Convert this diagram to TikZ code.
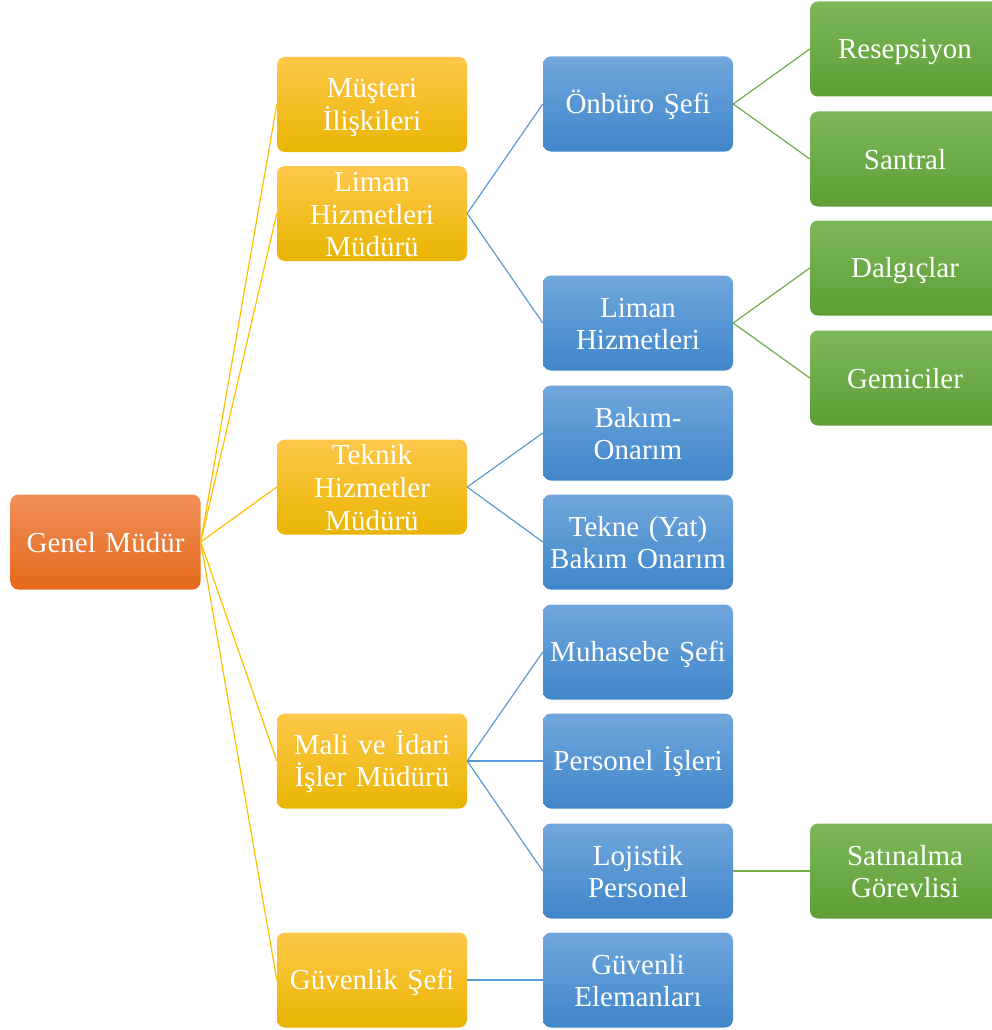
\documentclass[tikz,border=0pt]{standalone}
\usepackage{fontspec}
\setmainfont{Liberation Serif}
\begin{document}
\begin{tikzpicture}[x=1pt,y=-1pt,
  box/.style={rectangle, rounded corners=8pt, minimum width=190pt, minimum height=95pt,
    inner sep=0pt, text=white, align=center, text width=186pt,
    font=\fontsize{29}{32.8}\selectfont,
    execute at begin node={\rule{0pt}{25pt}},
    execute at end node={\rule[-4pt]{0pt}{4pt}}},
  obox/.style={box, top color=orange1, middle color=orange2, bottom color=orange3},
  ybox/.style={box, top color=yel1, middle color=yel2, bottom color=yel3},
  bbox/.style={box, top color=blu1, middle color=blu2, bottom color=blu3},
  gbox/.style={box, top color=grn1, middle color=grn2, bottom color=grn3},
  yline/.style={draw=yelline, line width=1.2pt},
  bline/.style={draw=bluline, line width=1.2pt},
  gline/.style={draw=grnline, line width=1.2pt}]
\definecolor{orange1}{HTML}{F18F5A}
\definecolor{orange2}{HTML}{F07E30}
\definecolor{orange3}{HTML}{E4691A}
\definecolor{yel1}{HTML}{FFC84A}
\definecolor{yel2}{HTML}{FFC107}
\definecolor{yel3}{HTML}{E9B502}
\definecolor{blu1}{HTML}{71A7DD}
\definecolor{blu2}{HTML}{5599DC}
\definecolor{blu3}{HTML}{3F86CA}
\definecolor{grn1}{HTML}{7DB85B}
\definecolor{grn2}{HTML}{6AAE3E}
\definecolor{grn3}{HTML}{5E9E34}
\definecolor{yelline}{HTML}{FFC000}
\definecolor{bluline}{HTML}{5B9BD5}
\definecolor{grnline}{HTML}{70AD47}
\useasboundingbox (0,0) rectangle (992,1030);

\node[obox] (gm) at (105.5,542) {Genel Müdür};

\node[ybox] (y1) at (372,104.5) {Müşteri\\İlişkileri};
\node[ybox] (y2) at (372,213.5) {Liman\\Hizmetleri\\Müdürü};
\node[ybox] (y3) at (372,487) {Teknik\\Hizmetler\\Müdürü};
\node[ybox] (y4) at (372,761) {Mali ve İdari\\İşler Müdürü};
\node[ybox] (y5) at (372,980) {Güvenlik Şefi};

\node[bbox] (b1) at (638,104) {Önbüro Şefi};
\node[bbox] (b2) at (638,323) {Liman\\Hizmetleri};
\node[bbox] (b3) at (638,433) {Bakım-\\Onarım};
\node[bbox] (b4) at (638,542) {Tekne (Yat)\\Bakım Onarım};
\node[bbox] (b5) at (638,652) {Muhasebe Şefi};
\node[bbox] (b6) at (638,761) {Personel İşleri};
\node[bbox] (b7) at (638,871) {Lojistik\\Personel};
\node[bbox] (b8) at (638,980) {Güvenli\\Elemanları};

\node[gbox] (g1) at (905,49) {Resepsiyon};
\node[gbox] (g2) at (905,159) {Santral};
\node[gbox] (g3) at (905,268) {Dalgıçlar};
\node[gbox] (g4) at (905,378) {Gemiciler};
\node[gbox] (g5) at (905,871) {Satınalma\\Görevlisi};

\foreach \t in {y1,y2,y3,y4,y5} \draw[yline] (gm.east) -- (\t.west);
\draw[bline] (y2.east) -- (b1.west);
\draw[bline] (y2.east) -- (b2.west);
\draw[bline] (y3.east) -- (b3.west);
\draw[bline] (y3.east) -- (b4.west);
\draw[bline] (y4.east) -- (b5.west);
\draw[bline] (y4.east) -- (b6.west);
\draw[bline] (y4.east) -- (b7.west);
\draw[bline] (y5.east) -- (b8.west);
\draw[gline] (b1.east) -- (g1.west);
\draw[gline] (b1.east) -- (g2.west);
\draw[gline] (b2.east) -- (g3.west);
\draw[gline] (b2.east) -- (g4.west);
\draw[gline] (b7.east) -- (g5.west);
\end{tikzpicture}
\end{document}
